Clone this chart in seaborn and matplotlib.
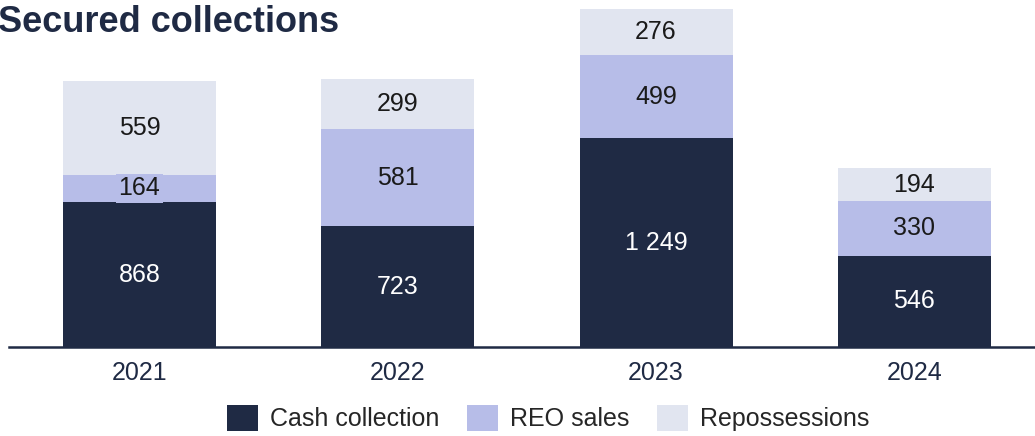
import matplotlib
matplotlib.use("Agg")
import matplotlib.pyplot as plt
import seaborn as sns
import pandas as pd
from matplotlib.patches import Patch

# data
YEARS = ["2021", "2022", "2023", "2024"]
CASH = [868, 723, 1249, 546]
REO = [164, 581, 499, 330]
REPO = [559, 299, 276, 194]
SERIES = ["Cash collection", "REO sales", "Repossessions"]

# colors
NAVY = "#1F2A44"
COLOR_REO = "#B7BDE8"
COLOR_REPO = "#E1E5F0"
COLORS = [NAVY, COLOR_REO, COLOR_REPO]

sns.set_style("white")
plt.rcParams["font.family"] = ["Liberation Sans", "DejaVu Sans"]

df = pd.DataFrame({"year": YEARS, "cash": CASH, "reo": REO, "repo": REPO})
df["lvl1"] = df["cash"]
df["lvl2"] = df["cash"] + df["reo"]
df["lvl3"] = df["lvl2"] + df["repo"]

fig = plt.figure(figsize=(10.35, 4.36), dpi=100)
ax = fig.add_axes([9 / 1035, 89 / 436, 1 - 9 / 1035, 338 / 436])

# stacked bars by overlapping cumulative totals (top layer first)
for col, color in zip(["lvl3", "lvl2", "lvl1"], [COLOR_REPO, COLOR_REO, NAVY]):
    sns.barplot(data=df, x="year", y=col, order=YEARS, color=color,
                saturation=1, width=0.592, linewidth=0, ax=ax)

ax.set_xlim(-0.505, 3.467)
ax.set_ylim(0, df["lvl3"].max())


def fmt(v):
    return f"{v:,}".replace(",", " ")


for i, row in df.iterrows():
    bottoms = [0, row["lvl1"], row["lvl2"]]
    vals = [row["cash"], row["reo"], row["repo"]]
    for j, (b, v) in enumerate(zip(bottoms, vals)):
        txt_color = "white" if j == 0 else "#1A1A1A"
        bbox = None
        if j == 1:
            bbox = dict(facecolor=COLOR_REO, edgecolor="none",
                        boxstyle="square,pad=0.1")
        ax.text(i, b + v / 2, fmt(v), ha="center", va="center",
                fontsize=18, color=txt_color, bbox=bbox)

ax.set_xlabel("")
ax.set_ylabel("")
ax.set_yticks([])
ax.tick_params(axis="x", length=0, pad=10, labelsize=18, labelcolor=NAVY)
for s in ["top", "right", "left"]:
    ax.spines[s].set_visible(False)
ax.spines["bottom"].set_color(NAVY)
ax.spines["bottom"].set_linewidth(1.8)

fig.text(-2 / 1035, 1 - 23 / 436, "Secured collections", fontsize=26,
         fontweight="bold", color=NAVY, ha="left", va="center")

handles = [Patch(facecolor=c, edgecolor="none") for c in COLORS]
fig.legend(handles, SERIES, loc="center", bbox_to_anchor=(548 / 1035, 18 / 436),
           ncol=3, frameon=False, fontsize=18, handlelength=1.24,
           handleheight=1.28, handletextpad=0.48, columnspacing=1.1,
           borderpad=0, borderaxespad=0)

fig.savefig("out.png", dpi=100)
